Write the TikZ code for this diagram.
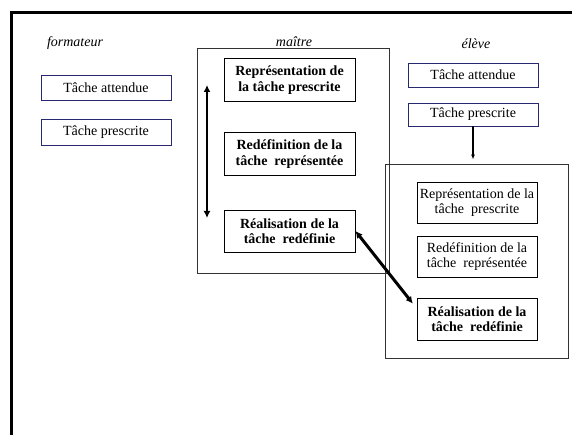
\documentclass[tikz,border=0pt]{standalone}
\usepackage{fontspec}
\setmainfont{Liberation Serif}
\usetikzlibrary{arrows.meta}
\definecolor{bleuboite}{RGB}{40,40,110}
\tikzset{
  tache/.style={
    draw=bleuboite,
    line width=0.9pt,
    inner sep=0pt,
    minimum width=130pt,
    minimum height=25pt,
    font=\fontsize{14}{15.5}\selectfont
  },
  etape/.style={
    draw,
    line width=0.9pt,
    align=center,
    inner sep=0pt,
    minimum width=131pt,
    minimum height=43pt,
    font=\fontsize{14}{15.5}\selectfont
  },
  gras/.style={font=\fontsize{14}{15.5}\selectfont\bfseries},
  groupe/.style={draw=black!80, line width=0.9pt, inner sep=0pt},
  titre/.style={font=\fontsize{14}{15.5}\selectfont\itshape},
  lien/.style={{Latex[length=7pt,width=7pt]}-{Latex[length=7pt,width=7pt]}}
}

\begin{document}
\begin{tikzpicture}[x=1pt,y=-1pt]
        \useasboundingbox (0,0) rectangle (572,435);
        \draw[line width=3pt] (11,445) -- (11,13) -- (580,13);

        % formateur
        \node[titre] (formateur) at (75,43) {formateur};
        \node[tache] (fattendue) at (106,88) {Tâche attendue};
        \node[tache, minimum height=26pt] (fprescrite) at (106,132.5) {Tâche prescrite};

        % maitre
        \node[titre] (maitre) at (294,42) {maître};
        \node[groupe, minimum width=192pt, minimum height=225pt] (mcadre) at (293,160.5) {};
        \node[etape, gras] (mrepr) at (289.5,80) {Représentation de\\la tâche prescrite};
        \node[etape, gras] (mredef) at (289.5,154) {Redéfinition de la\\tâche\ \ représentée};
        \node[etape, gras, minimum height=42pt] (mreal) at (289.5,231) {Réalisation de la\\tâche\ \ redéfinie};
        \coordinate (mhaut) at (207,85);
        \coordinate (mbas) at (207,218);
        \draw[lien, line width=2.5pt] (mhaut) -- (mbas);

        % eleve
        \node[titre] (eleve) at (476,44) {élève};
        \node[tache, minimum height=24pt] (eattendue) at (473,75) {Tâche attendue};
        \node[tache, minimum height=23pt] (eprescrite) at (473,114.5) {Tâche prescrite};
        \node[groupe, minimum width=183pt, minimum height=194pt] (ecadre) at (476.5,261) {};
        \node[etape, minimum width=120pt, minimum height=41pt] (erepr) at (477,202.5) {Représentation de la\\tâche\ \ prescrite};
        \node[etape, minimum width=120pt, minimum height=41pt] (eredef) at (477,256.5) {Redéfinition de la\\tâche\ \ représentée};
        \node[etape, gras, minimum width=120pt, minimum height=42pt] (ereal) at (477,319) {Réalisation de la\\tâche\ \ redéfinie};

        \draw[-{Latex[length=5pt,width=4pt]}, line width=1.5pt, shorten >=4pt] (eprescrite.south) -- (eprescrite.south |- ecadre.north);
        \draw[lien, line width=3pt, shorten >=6pt] (mreal.east) -- (ereal.170);
\end{tikzpicture}
\end{document}
